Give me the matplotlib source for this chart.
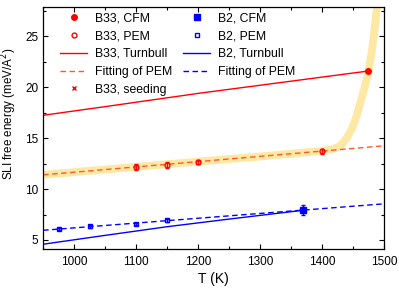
import matplotlib
matplotlib.use("Agg")
import matplotlib.pyplot as plt
from matplotlib.lines import Line2D
from matplotlib.ticker import MultipleLocator

plt.rcParams['font.family'] = ['Liberation Sans', 'DejaVu Sans']

# ---- data ----
b33_cfm_T = [1475]
b33_cfm_v = [21.6]

b33_pem_T = [1100, 1150, 1200, 1400]
b33_pem_v = [12.15, 12.34, 12.67, 13.72]
b33_pem_e = [0.32, 0.30, 0.20, 0.25]

b33_turn_T = [950, 1050, 1200, 1350, 1475]
b33_turn_v = [17.25, 18.1, 19.4, 20.6, 21.6]

b33_fit_T = [950, 1500]
b33_fit_v = [11.4, 14.25]

band_T = [950, 1100, 1200, 1300, 1400, 1415, 1425, 1432, 1440, 1449, 1456, 1463, 1469, 1475, 1480, 1484, 1489, 1493]
band_v = [11.4, 12.18, 12.7, 13.2, 13.75, 13.9, 14.1, 14.4, 15.0, 16.0, 17.2, 18.7, 20.0, 21.5, 23.3, 25.2, 27.9, 30.0]

b2_cfm_T = [1370]
b2_cfm_v = [7.95]
b2_cfm_e = [0.45]

b2_pem_T = [975, 1025, 1100, 1150]
b2_pem_v = [6.07, 6.33, 6.59, 6.92]
b2_pem_e = [0.12, 0.12, 0.12, 0.12]

b2_turn_T = [950, 1050, 1150, 1250, 1370]
b2_turn_v = [4.58, 5.45, 6.3, 7.05, 7.92]

b2_fit_T = [950, 1500]
b2_fit_v = [5.95, 8.55]

red = '#ff0000'
fitred = '#ff5a2a'
blue = '#0000ff'
band = '#ffe8a3'

fig = plt.figure(figsize=(3.99, 2.88), dpi=100)
ax = fig.add_axes([0.108, 0.135, 0.854, 0.841])

ax.plot(band_T, band_v, color=band, lw=5.6, solid_capstyle='butt', zorder=1)
ax.plot(b33_fit_T, b33_fit_v, color=fitred, lw=1, ls=(0, (4, 2.5)), zorder=2)
ax.plot(b33_turn_T, b33_turn_v, color=red, lw=1, zorder=2)
ax.errorbar(b33_pem_T, b33_pem_v, yerr=b33_pem_e, fmt='o', mfc='none', mec=red, color=red,
            ms=3.5, mew=1, capsize=1.5, elinewidth=1, zorder=3)
ax.plot(b33_cfm_T, b33_cfm_v, 'o', color=red, ms=4, zorder=3)

ax.plot(b2_fit_T, b2_fit_v, color=blue, lw=1, ls=(0, (4, 2.5)), zorder=2)
ax.plot(b2_turn_T, b2_turn_v, color=blue, lw=1, zorder=2)
ax.errorbar(b2_pem_T, b2_pem_v, yerr=b2_pem_e, fmt='s', mfc='none', mec=blue, color=blue,
            ms=3.5, mew=1, capsize=1.5, elinewidth=1, zorder=3)
ax.errorbar(b2_cfm_T, b2_cfm_v, yerr=b2_cfm_e, fmt='s', color=blue, ms=4,
            capsize=1.5, elinewidth=1, zorder=3)

ax.set_xlim(950, 1500)
ax.set_ylim(4.1, 27.9)
ax.xaxis.set_major_locator(MultipleLocator(100))
ax.xaxis.set_minor_locator(MultipleLocator(50))
ax.yaxis.set_major_locator(MultipleLocator(5))
ax.yaxis.set_minor_locator(MultipleLocator(2.5))
ax.tick_params(which='both', direction='in', top=True, right=True, labelsize=8.5, width=0.8)
ax.tick_params(which='major', length=3.5)
ax.tick_params(which='minor', length=2)
ax.tick_params(axis='x', which='major', pad=5)
for s in ax.spines.values():
    s.set_linewidth(0.9)

ax.set_xlabel('T (K)', fontsize=10, labelpad=3)
ax.set_ylabel('SLI free energy (meV/A$^2$)', fontsize=8.4)
ax.yaxis.set_label_coords(-0.07, 0.56)

handles = [
    Line2D([], [], ls='none', marker='o', color=red, ms=4),
    Line2D([], [], ls='none', marker='o', mfc='none', mec=red, ms=3.5, mew=1),
    Line2D([], [], color=red, lw=1),
    Line2D([], [], color=fitred, lw=1, ls=(0, (4, 2.5))),
    Line2D([], [], ls='none', marker='x', color=red, ms=3.5, mew=1),
    Line2D([], [], ls='none', marker='s', color=blue, ms=4),
    Line2D([], [], ls='none', marker='s', mfc='none', mec=blue, ms=3.5, mew=1),
    Line2D([], [], color=blue, lw=1),
    Line2D([], [], color=blue, lw=1, ls=(0, (4, 2.5))),
]
labels = ['B33, CFM', 'B33, PEM', 'B33, Turnbull', 'Fitting of PEM', 'B33, seeding',
          'B2, CFM', 'B2, PEM', 'B2, Turnbull', 'Fitting of PEM']
ax.legend(handles, labels, ncol=2, frameon=False, fontsize=8.8, loc='upper left',
          bbox_to_anchor=(0.05, 0.978), handlelength=2.2, handletextpad=0.65,
          columnspacing=0.9, labelspacing=0.48, borderaxespad=0, borderpad=0)

fig.savefig('out.png', dpi=100)
